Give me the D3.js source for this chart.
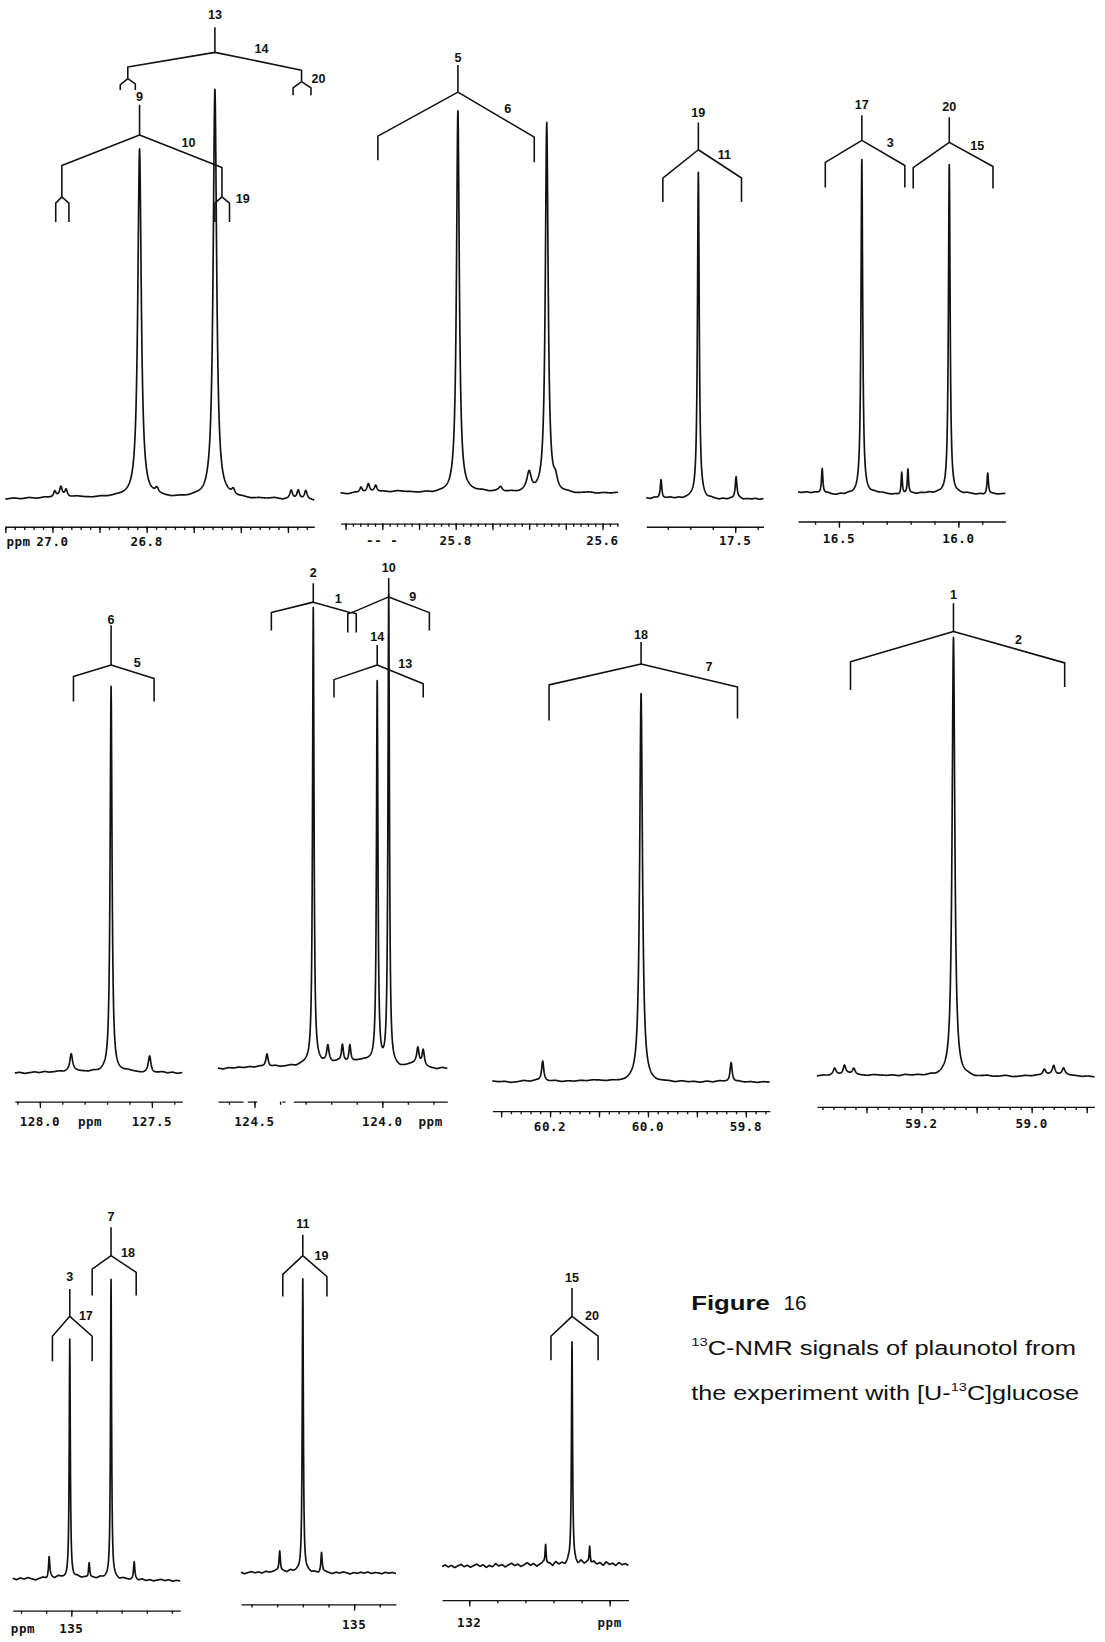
<!DOCTYPE html>
<html>
<head>
<meta charset="utf-8">
<script src="https://cdn.jsdelivr.net/npm/d3@7"></script>
<style>
  html, body { margin: 0; padding: 0; background: #fff; }
  svg { display: block; }
  .tick-label { font-family: "DejaVu Sans Mono", monospace; font-weight: bold; font-size: 12px; letter-spacing: 0.5px; fill: #111; }
  .tag { font-family: "Liberation Sans", Arial, sans-serif; font-weight: bold; font-size: 12px; fill: #111; }
  .cap { font-family: "Liberation Sans", Arial, sans-serif; font-size: 19px; fill: #111; }
</style>
</head>
<body>
<svg id="fig" width="1105" height="1642" viewBox="0 0 1055 1568"></svg>
<script>
// ---------------------------------------------------------------------------
// 13C-NMR signals of plaunotol, [U-13C]glucose experiment.
// Each spectrum: ppm window, peaks [ppm, relative height, half-width (ppm)],
// baseline offsets (relative units, evenly spread over the window),
// axis tick steps and printed scale labels.
// Coupling trees: [centre, left line, right line] in ppm, plus the carbon numbers.
// ---------------------------------------------------------------------------

// C-9 / C-13 region (~26.7 ppm)
const rangeA = [27.1, 26.444];
const peaksA = [[26.995,1.5,0.0033],[26.982,2.3,0.0033],[26.971,1.8,0.0033],[26.815,85,0.0044],[26.778,1.2,0.004],
                [26.655,100,0.0044],[26.616,1.4,0.004],[26.493,2.0,0.0033],[26.478,2.3,0.0033],[26.462,2.0,0.0033]];
const noiseA = [-0.2,0.1,-0.1,0.2,0.0,0.3,0.1,0.4,0.2,0.5,0.3,0.2,0.4,0.3,0.5,0.4,0.3,0.5,0.2,0.4,
                0.3,0.1,0.3,0.2,0.4,0.1,0.2,0.0,0.2,-0.1,0.1,-0.2,0.0,-0.1,0.1,-0.3,-0.1,-0.4,-0.2,-0.5];
const ticksA = { minor: 0.02, major: [27.1, 27.0, 26.9, 26.8, 26.7, 26.6, 26.5] };
const scaleLabelsA = [[27.072,"ppm"],[27.0,"27.0"],[26.8,"26.8"]];
const splitsA = [[26.655,26.84,26.471],[26.84,26.856,26.824],[26.471,26.489,26.451],
                 [26.815,26.98,26.64],[26.98,26.993,26.965],[26.64,26.655,26.624]];
const tagsA = [["13",26.655],["14",26.556],["20",26.435],["9",26.815],["10",26.711],["19",26.596]];

// C-5 region (~25.8 ppm)
const rangeB = [25.957, 25.579];
const peaksB = [[25.929,1.5,0.002],[25.919,2.0,0.002],[25.909,1.8,0.002],[25.797,100,0.0023],[25.739,1.2,0.003],
                [25.7,5,0.0036],[25.676,97,0.0023],[25.664,2.5,0.003]];
const noiseB = [0.1,-0.2,0.2,0.0,0.4,0.2,0.5,0.3,0.6,0.4,0.3,0.1,0.3,0.0,0.2,0.1,0.3,0.2,0.4,0.3,
                0.5,0.2,0.4,0.1,0.3,0.0,0.2,-0.1,0.1,0.0,0.2,-0.1,0.1,-0.2,0.0,0.2,-0.1,0.1,0.0,0.2];
const ticksB = { minor: 0.01, major: [25.95, 25.9, 25.85, 25.8, 25.75, 25.7, 25.65, 25.6] };
const scaleLabelsB = [[25.9,"-- -"],[25.8,"25.8"],[25.6,"25.6"]];
const splitsB = [[25.797,25.906,25.693]];
const tagsB = [["5",25.797],["6",25.729]];

// C-19 region (~17.6 ppm)
const rangeC = [17.698, 17.437];
const peaksC = [[17.665,5.8,0.0021],[17.582,100,0.0023],[17.498,6.7,0.0023]];
const noiseC = [0.2,-0.1,0.3,0.0,-0.2,0.1,0.3,0.0,0.2,-0.1,0.1,0.3,0.0,-0.2,0.1,-0.3,0.0,-0.2,-0.4,-0.1,
                -0.3,0.0,-0.2,0.1,-0.3,-0.1,-0.2,0.0,-0.3,-0.1];
const ticksC = { minor: 0.05, major: [17.5] };
const scaleLabelsC = [[17.5,"17.5"]];
const splitsC = [[17.582,17.661,17.486]];
const tagsC = [["19",17.582],["11",17.524]];

// C-17 / C-20 region (~16.2 ppm)
const rangeD = [16.671, 15.803];
const peaksD = [[16.57,7.5,0.0035],[16.404,100,0.0042],[16.237,6.6,0.003],[16.211,7.2,0.003],
                [16.038,99,0.0042],[15.877,6.3,0.0035]];
const noiseD = [0.3,0.2,0.4,0.1,0.3,0.0,-0.2,0.1,-0.3,-0.5,-0.2,-0.4,-0.1,-0.3,0.0,0.2,0.1,-0.1,0.2,0.0,
                0.1,-0.2,-0.4,-0.3,-0.6,-0.3,-0.1,0.0,-0.2,0.1,0.0,0.2,-0.1,0.1,0.0,-0.2,-0.4,-0.3,-0.1,-0.3,
                0.0,-0.2,-0.4,-0.2,-0.5,-0.3,-0.1,-0.3,-0.2,-0.1];
const ticksD = { minor: 0.1, major: [16.5, 16.0] };
const scaleLabelsD = [[16.5,"16.5"],[16.0,"16.0"]];
const splitsD = [[16.404,16.557,16.224],[16.038,16.189,15.855]];
const tagsD = [["17",16.404],["3",16.285],["20",16.038],["15",15.921]];

// C-6 region (~127.7 ppm)
const rangeE = [128.112, 127.364];
const peaksE = [[127.86,4.3,0.007],[127.682,100,0.005],[127.51,4.3,0.007]];
const noiseE = [-0.2,0.0,-0.3,-0.1,0.1,-0.1,0.2,0.0,0.1,0.3,0.1,0.4,0.5,0.3,0.2,0.1,0.3,0.0,0.2,0.0,
                0.3,0.1,0.2,0.4,0.2,0.0,-0.2,0.0,-0.3,-0.1,0.1,-0.2,0.0,-0.3,-0.1];
const ticksE = { minor: 0.1, major: [128.0, 127.5] };
const scaleLabelsE = [[128.0,"128.0"],[127.776,"ppm"],[127.5,"127.5"]];
const splitsE = [[127.682,127.85,127.49]];
const tagsE = [["6",127.682],["5",127.565]];

// C-2 / C-10 / C-14 region (~124 ppm)
const rangeF = [124.643, 123.746];
const peaksF = [[124.451,2.7,0.0053],[124.27,96.7,0.0034],[124.213,3.3,0.0053],[124.156,3.6,0.0045],[124.127,3.6,0.0045],
                [124.02,80.9,0.0034],[123.975,100,0.0034],[123.861,3.3,0.0053],[123.84,3.3,0.0053]];
const noiseF = [0.0,-0.2,0.1,0.0,0.2,0.1,0.3,0.2,0.4,0.3,0.2,0.5,0.3,0.4,0.6,0.4,0.8,1.0,0.9,1.2,
                1.0,1.3,1.1,1.4,1.2,1.0,1.3,1.5,1.6,1.4,1.0,0.5,0.2,0.0,0.3,0.1,0.4,0.8,1.0,0.6,
                0.2,0.0,-0.2,0.1,-0.1];
const ticksF = { minor: 0.1, major: [124.5, 124.0] };
const scaleLabelsF = [[124.5,"124.5"],[124.0,"124.0"],[123.811,"ppm"]];
const splitsF = [[124.27,124.434,124.127],[124.119,124.135,124.102],[123.975,124.119,123.816],[124.02,124.189,123.84]];
const tagsF = [["2",124.27],["1",124.172],["10",123.975],["9",123.881],["14",124.02],["13",123.91]];

// C-18 region (~60.0 ppm)
const rangeG = [60.318, 59.751];
const peaksG = [[60.215,5.1,0.0026],[60.014,100,0.0034],[59.83,5.1,0.0026]];
const noiseG = [0.2,0.0,0.1,-0.2,0.0,0.3,0.1,0.4,0.2,0.1,0.3,0.0,0.2,0.1,0.3,0.2,0.4,0.3,0.1,0.2,
                0.0,-0.1,0.1,-0.2,0.0,-0.1,-0.3,-0.1,0.0,-0.2,0.1,-0.1,0.0,-0.2,0.1,-0.1,0.2,0.0,-0.2,0.1,
                -0.1,0.0,-0.2,0.0,-0.1];
const ticksG = { minor: 0.02, major: [60.3, 60.2, 60.1, 60.0, 59.9, 59.8] };
const scaleLabelsG = [[60.2,"60.2"],[60.0,"60.0"],[59.8,"59.8"]];
const splitsG = [[60.014,60.202,59.817]];
const tagsG = [["18",60.014],["7",59.875]];

// C-1 region (~59.1 ppm)
const rangeH = [59.39, 58.886];
const peaksH = [[59.358,1.4,0.003],[59.34,2.1,0.003],[59.323,1.4,0.003],[59.142,100,0.0029],
                [58.977,1.4,0.003],[58.96,2.1,0.003],[58.942,1.4,0.003]];
const noiseH = [0.1,0.3,0.2,0.5,0.3,0.6,0.4,0.3,0.2,0.4,0.3,0.2,0.3,0.1,0.4,0.2,0.3,0.1,0.3,0.0,
                0.2,0.0,0.1,-0.2,0.0,-0.3,-0.1,0.1,-0.1,0.0,0.2,-0.1,0.0,0.2,0.1,0.3,0.2,0.4,0.3,0.5,
                0.3,0.2,0.0,0.1,-0.1];
const ticksH = { minor: 0.02, major: [59.3, 59.2, 59.1, 59.0, 58.9] };
const scaleLabelsH = [[59.2,"59.2"],[59.0,"59.0"]];
const splitsH = [[59.142,59.329,58.94]];
const tagsH = [["1",59.142],["2",59.024]];

// C-3 / C-7 region (~135 ppm)
const rangeI = [135.233, 134.567];
const peaksI = [[135.088,7,0.003],[135.006,79.4,0.0025],[134.929,5.2,0.003],[134.842,100,0.0025],[134.75,5.6,0.003]];
const noiseI = [0.3,-0.2,0.4,0.0,0.5,0.1,-0.3,0.2,0.6,0.0,0.8,0.3,1.0,0.5,0.2,0.7,0.3,0.9,0.4,0.6,
                0.1,0.5,0.2,0.7,0.3,0.5,0.0,0.4,-0.2,0.3,0.0,-0.3,0.2,-0.4,0.0,-0.5,-0.2,-0.6,-0.3,-0.1,
                -0.5,-0.2,-0.7,-0.4,-0.6];
const ticksI = { minor: 0.1, major: [135.0] };
const scaleLabelsI = [[135.192,"ppm"],[135.0,"135"]];
const splitsI = [[134.842,134.917,134.742],[135.006,135.075,134.917]];
const tagsI = [["7",134.842],["18",134.775],["3",135.006],["17",134.942]];

// C-11 region (~135.2 ppm)
const rangeJ = [135.441, 134.837];
const peaksJ = [[135.29,7.1,0.003],[135.2,100,0.0025],[135.127,6.8,0.003]];
const noiseJ = [0.2,-0.3,0.1,0.4,0.0,0.3,-0.1,0.5,0.2,0.4,0.8,0.3,0.6,0.2,0.9,0.4,0.7,0.3,0.2,0.5,
                0.0,0.3,-0.2,0.1,0.4,0.0,-0.3,0.2,-0.1,0.3,0.0,-0.4,0.1,-0.2,0.2,-0.1,0.3,-0.2,0.1,0.0,
                -0.3,0.2,-0.1,0.1,-0.2];
const ticksJ = { minor: 0.1, major: [135.0] };
const scaleLabelsJ = [[135.0,"135"]];
const splitsJ = [[135.2,135.278,135.106]];
const tagsJ = [["11",135.2],["19",135.127]];

// C-15 region (~131.6 ppm)
const rangeK = [132.097, 131.433];
const peaksK = [[131.728,9,0.0023],[131.634,100,0.0023],[131.571,8,0.0023]];
const noiseK = [0.5,1.2,0.3,1.0,0.0,0.8,1.5,0.4,1.1,0.2,0.9,1.6,0.6,1.3,0.1,1.0,0.4,1.8,0.7,1.4,
                0.3,1.2,2.0,0.9,1.6,0.5,1.3,2.2,1.0,1.8,0.6,1.5,2.4,1.2,2.0,0.8,2.6,1.4,2.1,1.0,
                2.8,1.6,2.3,1.1,3.0,1.7,2.5,1.2,2.8,1.5,2.2,1.0,2.6,1.4,2.0,0.9,2.3,1.3,1.8,1.0];
const ticksK = { minor: 0.1, major: [132.0, 131.5] };
const scaleLabelsK = [[132.0,"132"],[131.5,"ppm"]];
const splitsK = [[131.634,131.709,131.541]];
const tagsK = [["15",131.634],["20",131.563]];

// ---------------------------------------------------------------------------
// Page layout (in 1055 x 1568 drawing units).
// split rows: [stem top, apex, left end, right end, left foot, right foot]
// ---------------------------------------------------------------------------
const panels = [
  { range: rangeA, peaks: peaksA, noise: noiseA, ticks: ticksA, scale: scaleLabelsA, splits: splitsA, tags: tagsA,
    L: { x0: 5, x1: 300, base: 476, top: 86, axisY: 503, labelY: 517,
         splitY: [[26,50,64,67,74,76],[74,75,81,80,86,86],[76,78,84,84,91,91],
                  [100,129,158,160,186,182],[186,188,194,194,212,212],[182,188,194,194,212,212]],
         tagY: [14,47,75,93,137,190] } },
  { range: rangeB, peaks: peaksB, noise: noiseB, ticks: ticksB, scale: scaleLabelsB, splits: splitsB, tags: tagsB,
    L: { x0: 325, x1: 590, base: 471, top: 107, axisY: 500, labelY: 516,
         splitY: [[62,88,130,131,153,155]], tagY: [55,104] } },
  { range: rangeC, peaks: peaksC, noise: noiseC, ticks: ticksC, scale: scaleLabelsC, splits: splitsC, tags: tagsC,
    L: { x0: 617, x1: 729, base: 476, top: 164, axisY: 503, labelY: 516,
         splitY: [[117,143,170,170,193,193]], tagY: [108,148] } },
  { range: rangeD, peaks: peaksD, noise: noiseD, ticks: ticksD, scale: scaleLabelsD, splits: splitsD, tags: tagsD,
    L: { x0: 762, x1: 960, base: 471, top: 153, axisY: 498, labelY: 514,
         splitY: [[110,134,155,158,179,179],[112,136,160,159,180,180]], tagY: [100,137,102,139] } },
  { range: rangeE, peaks: peaksE, noise: noiseE, ticks: ticksE, scale: scaleLabelsE, splits: splitsE, tags: tagsE,
    L: { x0: 14, x1: 174, base: 1024, top: 656, axisY: 1052, labelY: 1071,
         splitY: [[597,635,646,648,670,670]], tagY: [592,633] } },
  { range: rangeF, peaks: peaksF, noise: noiseF, ticks: ticksF, scale: scaleLabelsF, splits: splitsF, tags: tagsF,
    L: { x0: 208, x1: 427, base: 1020, top: 570, axisY: 1052, labelY: 1071, axisDash: "24 4 9 24 3 8 400",
         splitY: [[557,575,585,585,602,585],[585,585,586,586,604,604],[552,570,585,585,585,602],[616,635,649,653,666,666]],
         tagY: [547,572,542,570,608,634] } },
  { range: rangeG, peaks: peaksG, noise: noiseG, ticks: ticksG, scale: scaleLabelsG, splits: splitsG, tags: tagsG,
    L: { x0: 470, x1: 735, base: 1033, top: 662, axisY: 1061, labelY: 1076,
         splitY: [[613,634,654,656,688,686]], tagY: [606,637] } },
  { range: rangeH, peaks: peaksH, noise: noiseH, ticks: ticksH, scale: scaleLabelsH, splits: splitsH, tags: tagsH,
    L: { x0: 780, x1: 1045, base: 1028, top: 609, axisY: 1057, labelY: 1073,
         splitY: [[576,603,632,633,659,656]], tagY: [568,611] } },
  { range: rangeI, peaks: peaksI, noise: noiseI, ticks: ticksI, scale: scaleLabelsI, splits: splitsI, tags: tagsI,
    L: { x0: 12, x1: 172, base: 1508, top: 1222, axisY: 1538, labelY: 1555,
         splitY: [[1172,1199,1212,1215,1237,1237],[1231,1257,1276,1276,1300,1300]], tagY: [1162,1197,1219,1257] } },
  { range: rangeJ, peaks: peaksJ, noise: noiseJ, ticks: ticksJ, scale: scaleLabelsJ, splits: splitsJ, tags: tagsJ,
    L: { x0: 230, x1: 378, base: 1502, top: 1222, axisY: 1532, labelY: 1551,
         splitY: [[1179,1199,1217,1219,1238,1238]], tagY: [1169,1199] } },
  { range: rangeK, peaks: peaksK, noise: noiseK, ticks: ticksK, scale: scaleLabelsK, splits: splitsK, tags: tagsK,
    L: { x0: 422, x1: 600, base: 1497, top: 1285, axisY: 1528, labelY: 1549,
         splitY: [[1230,1257,1276,1276,1299,1299]], tagY: [1220,1257] } }
];

const INK = "#111";
const svg = d3.select("#fig");

function stepTicks(range, step) {
  const lo = Math.min(range[0], range[1]), hi = Math.max(range[0], range[1]);
  const k0 = Math.ceil(lo / step - 1e-6), k1 = Math.floor(hi / step + 1e-6);
  return d3.range(k0, k1 + 1).map(k => +(k * step).toFixed(4));
}

function drawPanel(P) {
  const L = P.L;
  const x = d3.scaleLinear().domain(P.range).range([L.x0, L.x1]);
  const y = d3.scaleLinear().domain([0, 100]).range([L.base, L.top]);
  const n = P.noise.length;
  const baseline = d3.scaleLinear()
      .domain(P.noise.map((v, i) => P.range[0] + (P.range[1] - P.range[0]) * i / (n - 1)))
      .range(P.noise);
  // Lorentzian lines on top of the baseline
  const signal = p => baseline(p) + d3.sum(P.peaks, ([c, h, w]) => h * w * w / ((p - c) * (p - c) + w * w));

  const grid = d3.range(L.x0, L.x1 + 0.001, 0.25).map(px => x.invert(px)).concat(P.peaks.map(pk => pk[0]));
  grid.sort((a, b) => x(a) - x(b));

  const g = svg.append("g");
  g.append("path")
    .datum(grid)
    .attr("d", d3.line().x(p => x(p)).y(p => y(signal(p))))
    .attr("fill", "none").attr("stroke", INK).attr("stroke-width", 1.6)
    .attr("stroke-linejoin", "round");

  // ppm scale with hanging ticks
  const ax = g.append("g").attr("transform", `translate(0,${L.axisY})`);
  ax.call(d3.axisBottom(x).tickValues(stepTicks(P.range, P.ticks.minor)).tickSize(3).tickSizeOuter(0).tickFormat(""));
  ax.append("g")
    .call(d3.axisBottom(x).tickValues(P.ticks.major).tickSize(6).tickSizeOuter(0).tickFormat(""))
    .call(s => s.select(".domain").remove());
  ax.selectAll("path, line").attr("stroke", INK).attr("stroke-width", 1.3);
  if (L.axisDash) ax.select(".domain").attr("stroke-dasharray", L.axisDash);

  g.selectAll(null).data(P.scale).join("text")
    .attr("class", "tick-label")
    .attr("x", d => x(d[0])).attr("y", L.labelY)
    .attr("text-anchor", "middle").attr("dominant-baseline", "central")
    .text(d => d[1]);

  // coupling trees
  const tree = d3.path();
  P.splits.forEach(([c, l, r], i) => {
    const [top, apex, endL, endR, footL, footR] = L.splitY[i];
    const cx = x(c), lx = x(l), rx = x(r);
    if (top < apex) { tree.moveTo(cx, top); tree.lineTo(cx, apex); }
    tree.moveTo(lx, footL); tree.lineTo(lx, endL); tree.lineTo(cx, apex);
    tree.lineTo(rx, endR); tree.lineTo(rx, footR);
  });
  g.append("path").attr("d", tree.toString())
    .attr("fill", "none").attr("stroke", INK).attr("stroke-width", 1.5)
    .attr("stroke-linejoin", "round");

  g.selectAll(null).data(P.tags).join("text")
    .attr("class", "tag")
    .attr("x", d => x(d[1])).attr("y", (d, i) => L.tagY[i])
    .attr("text-anchor", "middle").attr("dominant-baseline", "central")
    .text(d => d[0]);
}

panels.forEach(drawPanel);

// Caption block
function fitLine(sel, x0, baseY, width) {
  const w = sel.node().getBBox().width;
  sel.attr("transform", `translate(${x0},${baseY}) scale(${width / w},1)`);
}
const cap = svg.append("g");
const t1 = cap.append("text").attr("class", "cap").attr("font-weight", "bold").text("Figure");
fitLine(t1, 660, 1251, 75);
const t2 = cap.append("text").attr("class", "cap").text("16");
fitLine(t2, 748, 1251, 22);
const t3 = cap.append("text").attr("class", "cap");
t3.append("tspan").attr("font-size", 11).attr("dy", -9).text("13");
t3.append("tspan").attr("dy", 9).text("C-NMR signals of plaunotol from");
fitLine(t3, 660, 1294, 367);
const t4 = cap.append("text").attr("class", "cap");
t4.append("tspan").text("the experiment with [U-");
t4.append("tspan").attr("font-size", 11).attr("dy", -9).text("13");
t4.append("tspan").attr("dy", 9).text("C]glucose");
fitLine(t4, 660, 1337, 370);
</script>
</body>
</html>
